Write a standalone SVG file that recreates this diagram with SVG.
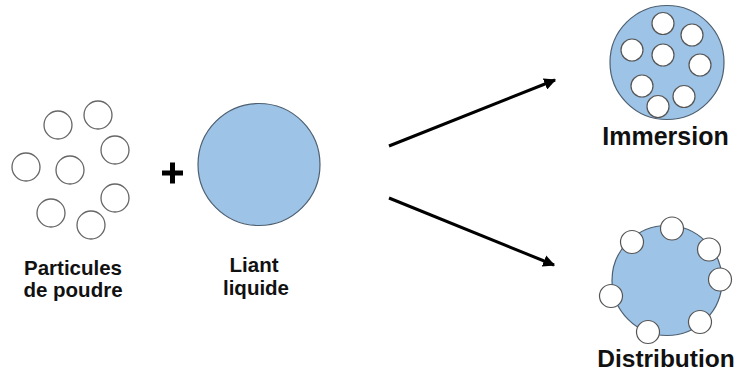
<svg xmlns="http://www.w3.org/2000/svg" width="740" height="371" viewBox="0 0 740 371">
<style>
.p{fill:#fff;stroke:#666;stroke-width:1.3}
.w{fill:#fff;stroke:#555;stroke-width:1.2}
.b{fill:#9dc3e6;stroke:#4d5f70;stroke-width:1.2}
.t{font-family:"Liberation Sans",Arial,sans-serif;font-weight:bold;fill:#111;text-anchor:middle}
.c{stroke:#000;stroke-width:3;fill:none}
</style>
<defs>
<marker id="ah" viewBox="0 0 10 10" refX="9" refY="5" markerWidth="4" markerHeight="4" markerUnits="strokeWidth" orient="auto">
<path d="M0,0 L10,5 L0,10 z" fill="#000"/>
</marker>
</defs>
<rect width="740" height="371" fill="#fff"/>
<g id="particules">
<circle class="p" cx="58" cy="125" r="14"/>
<circle class="p" cx="98" cy="115" r="14"/>
<circle class="p" cx="115" cy="150" r="14"/>
<circle class="p" cx="26" cy="167" r="14"/>
<circle class="p" cx="70" cy="170" r="14"/>
<circle class="p" cx="115" cy="198" r="14"/>
<circle class="p" cx="51" cy="213" r="14"/>
<circle class="p" cx="91" cy="225" r="14"/>
<text class="t" x="73" y="275" font-size="20.5">Particules</text>
<text class="t" x="73" y="297" font-size="20.5">de poudre</text>
</g>
<g id="plus">
<rect x="162" y="170.5" width="21" height="5" fill="#000"/>
<rect x="170" y="162.5" width="5" height="21" fill="#000"/>
</g>
<g id="liant">
<circle class="b" cx="259" cy="164.5" r="61"/>
<text class="t" x="254" y="272" font-size="20.5">Liant</text>
<text class="t" x="256" y="295" font-size="20.5">liquide</text>
</g>
<g id="connectors">
<line class="c" x1="389" y1="146" x2="555" y2="80" marker-end="url(#ah)"/>
<line class="c" x1="389" y1="198" x2="554" y2="265" marker-end="url(#ah)"/>
</g>
<g id="immersion">
<circle class="b" cx="667" cy="62.5" r="57"/>
<circle class="w" cx="663" cy="23.5" r="11"/>
<circle class="w" cx="692" cy="35" r="11"/>
<circle class="w" cx="632" cy="50" r="11"/>
<circle class="w" cx="663" cy="55" r="11"/>
<circle class="w" cx="700" cy="65" r="11"/>
<circle class="w" cx="642" cy="86" r="11"/>
<circle class="w" cx="684" cy="96.5" r="11"/>
<circle class="w" cx="658" cy="106.5" r="11"/>
<text class="t" x="665.5" y="144.5" font-size="25">Immersion</text>
</g>
<g id="distribution">
<circle class="b" cx="667" cy="280.5" r="55"/>
<circle class="w" cx="672" cy="228.5" r="11.5"/>
<circle class="w" cx="632" cy="242" r="11.5"/>
<circle class="w" cx="709" cy="249.5" r="11.5"/>
<circle class="w" cx="720" cy="279.5" r="11.5"/>
<circle class="w" cx="611" cy="296" r="11.5"/>
<circle class="w" cx="700" cy="322" r="11.5"/>
<circle class="w" cx="648" cy="332" r="11.5"/>
<text class="t" x="666" y="366.5" font-size="24.5">Distribution</text>
</g>
</svg>
